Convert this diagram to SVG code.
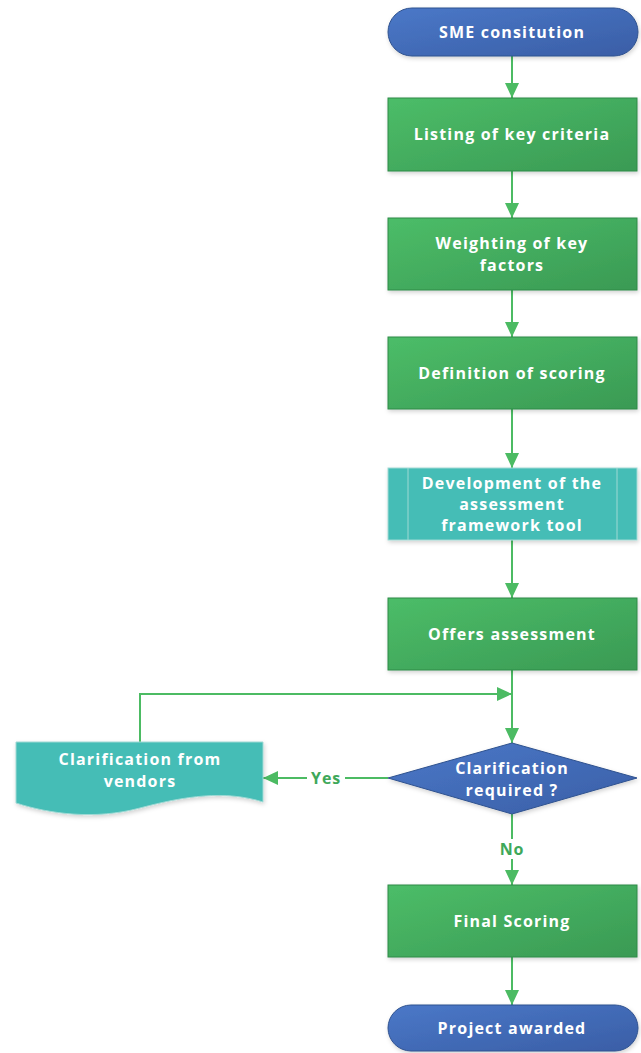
<svg xmlns="http://www.w3.org/2000/svg" width="641" height="1053" viewBox="0 0 641 1053">
<defs>
<linearGradient id="gGreen" x1="0" y1="0" x2="1" y2="1">
<stop offset="0" stop-color="#4cbd68"/><stop offset="1" stop-color="#3a9a54"/>
</linearGradient>
<linearGradient id="gBlue" x1="0" y1="0" x2="1" y2="1">
<stop offset="0" stop-color="#4a78c8"/><stop offset="1" stop-color="#3a5ea6"/>
</linearGradient>
<filter id="sh" x="-10%" y="-10%" width="120%" height="130%">
<feDropShadow dx="1" dy="2" stdDeviation="2" flood-color="#000" flood-opacity="0.18"/>
</filter>
<marker id="ah" markerWidth="16" markerHeight="14" refX="15" refY="7" orient="auto" markerUnits="userSpaceOnUse">
<path d="M0,0 L15,7 L0,14 Z" fill="#4cbb63"/>
</marker>
</defs>
<style>
.proc{fill:url(#gGreen);stroke:#2f8a47;stroke-width:1;filter:url(#sh)}
.term{fill:url(#gBlue);stroke:#2f528f;stroke-width:1;filter:url(#sh)}
.teal{fill:#45bdb6;stroke:#9fd9d4;stroke-width:1;filter:url(#sh)}
.t{font-family:"Open Sans","Liberation Sans",sans-serif;font-weight:bold;font-size:16px;letter-spacing:1.2px;fill:#fff;text-anchor:middle}
.lbl{font-family:"Open Sans","Liberation Sans",sans-serif;font-weight:bold;font-size:16px;letter-spacing:0.8px;fill:#3ea85a;text-anchor:middle}
.c{fill:none;stroke:#4cbb63;stroke-width:2}
</style>
<g id="connectors">
<path class="c" d="M512,56 V98" marker-end="url(#ah)"/>
<path class="c" d="M512,171 V218" marker-end="url(#ah)"/>
<path class="c" d="M512,290 V337" marker-end="url(#ah)"/>
<path class="c" d="M512,409 V468" marker-end="url(#ah)"/>
<path class="c" d="M512,540 V598" marker-end="url(#ah)"/>
<path class="c" d="M512,670 V743" marker-end="url(#ah)"/>
<path class="c" d="M140,742 V694 H512" marker-end="url(#ah)"/>
<path class="c" d="M388,778 H263" marker-end="url(#ah)"/>
<path class="c" d="M512,814 V885" marker-end="url(#ah)"/>
<path class="c" d="M512,957 V1005" marker-end="url(#ah)"/>
<rect x="307" y="768" width="38" height="20" fill="#fff"/>
<text class="lbl" x="326" y="784">Yes</text>
<rect x="496" y="839" width="32" height="20" fill="#fff"/>
<text class="lbl" x="512" y="855">No</text>
</g>
<g id="n1">
<rect class="term" x="388" y="8" width="250" height="48" rx="24"/>
<text class="t" x="512" y="38">SME consitution</text>
</g>
<g id="n2">
<rect class="proc" x="388" y="98" width="249" height="73"/>
<text class="t" x="512" y="140">Listing of key criteria</text>
</g>
<g id="n3">
<rect class="proc" x="388" y="218" width="249" height="72"/>
<text class="t" x="512" y="249">Weighting of key</text>
<text class="t" x="512" y="271">factors</text>
</g>
<g id="n4">
<rect class="proc" x="388" y="337" width="249" height="72"/>
<text class="t" x="512" y="379">Definition of scoring</text>
</g>
<g id="n5">
<rect class="teal" x="388" y="468" width="249" height="72"/>
<line x1="408" y1="468" x2="408" y2="540" stroke="#9fd9d4" stroke-width="1"/>
<line x1="617" y1="468" x2="617" y2="540" stroke="#9fd9d4" stroke-width="1"/>
<text class="t" x="512" y="489">Development of the</text>
<text class="t" x="512" y="510">assessment</text>
<text class="t" x="512" y="531">framework tool</text>
</g>
<g id="n6">
<rect class="proc" x="388" y="598" width="249" height="72"/>
<text class="t" x="512" y="640">Offers assessment</text>
</g>
<g id="n7">
<path class="term" d="M512,743 L637,778 L512,814 L388,778 Z"/>
<text class="t" x="512" y="774">Clarification</text>
<text class="t" x="512" y="796">required ?</text>
</g>
<g id="n8">
<path class="teal" d="M16,742 H263 V802 C225,790 185,796 140,808 C95,820 50,814 16,803 Z"/>
<text class="t" x="140" y="765">Clarification from</text>
<text class="t" x="140" y="787">vendors</text>
</g>
<g id="n9">
<rect class="proc" x="388" y="885" width="249" height="72"/>
<text class="t" x="512" y="927">Final Scoring</text>
</g>
<g id="n10">
<rect class="term" x="388" y="1005" width="250" height="46" rx="23"/>
<text class="t" x="512" y="1034">Project awarded</text>
</g>
</svg>
